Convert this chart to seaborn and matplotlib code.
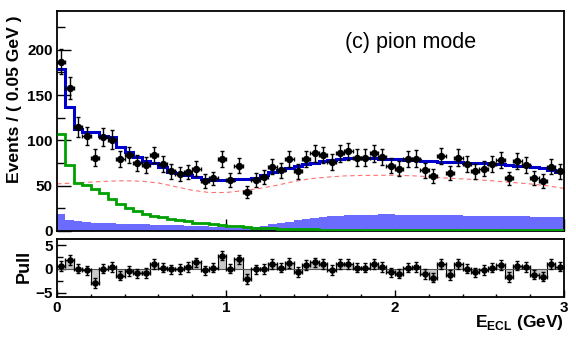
import numpy as np
import matplotlib
matplotlib.use('Agg')
import matplotlib.pyplot as plt
import seaborn as sns

# 60 bins of 0.05 GeV between 0 and 3 GeV
bin_edges = np.linspace(0, 3, 61)
bin_centers = (bin_edges[:-1] + bin_edges[1:]) / 2

data_counts = [187, 158, 115, 105, 81, 104, 101, 79, 84, 75,
               73, 84, 74, 66, 63, 65, 69, 55, 58, 79,
               56, 72, 43, 56, 60, 71, 67, 79, 66, 79,
               86, 84, 76, 86, 88, 81, 81, 86, 82, 72,
               69, 79, 80, 67, 61, 83, 64, 81, 74, 66,
               69, 74, 78, 58, 77, 73, 59, 55, 71, 66]

fit_total = [178.7, 137.4, 112.3, 109.5, 109, 104.5, 104, 92.5, 87.6, 82.1,
             77.7, 74.8, 70.4, 65.6, 63.7, 62, 60, 57, 56.4, 56.4,
             56.4, 57, 57.8, 58.5, 61.9, 64.8, 67.4, 69.2, 71.8, 73.7,
             75.5, 77, 78.5, 79.5, 80.3, 80.5, 80.5, 80.3, 80, 79.5,
             79, 78.5, 78, 77.5, 77, 76.6, 76.3, 76, 75.6, 75.2,
             74.8, 74.3, 73.7, 73, 72.3, 71.5, 70.5, 69.3, 67.5, 65.5]

signal = [107.5, 72.5, 53.5, 50.3, 46.2, 41.8, 35, 30, 25, 21.7,
          19.2, 17, 15, 13, 11.8, 10.5, 9.3, 8.3, 7.3, 6.5,
          5.7, 5, 4.4, 3.8, 3.3, 2.8, 2.4, 2.1, 1.9, 1.8,
          1.7, 1.6, 1.5, 1.5, 1.4, 1.4, 1.3, 1.3, 1.3, 1.2,
          1.2, 1.2, 1.2, 1.2, 1.1, 1.1, 1.1, 1.1, 1.1, 1.1,
          1.1, 1.1, 1.0, 1.0, 1.0, 1.0, 1.0, 1.0, 1.0, 1.0]

peaking_bkg = [18.8, 12.3, 10.6, 9.6, 9.2, 8.8, 8.5, 8.2, 7.9, 7.6,
               7.3, 7.0, 6.8, 6.6, 6.4, 6.0, 5.6, 5.1, 4.6, 4.1,
               3.7, 3.3, 3.2, 4.0, 5.5, 7.2, 8.8, 10.3, 11.8, 13.2,
               14.3, 15.3, 16.1, 16.8, 17.3, 17.7, 18.0, 18.2, 18.3, 18.3,
               18.2, 18.1, 18.0, 17.8, 17.7, 17.6, 17.4, 17.3, 17.1, 17.0,
               16.8, 16.6, 16.5, 16.3, 16.2, 16.1, 16.0, 15.9, 15.8, 15.7]

# smooth (dashed) component sampled every 0.1 GeV
curve_x = [0.0, 0.1, 0.2, 0.3, 0.4, 0.5, 0.6, 0.7, 0.8, 0.9,
           1.0, 1.1, 1.2, 1.3, 1.4, 1.5, 1.6, 1.7, 1.8, 1.9,
           2.0, 2.1, 2.2, 2.3, 2.4, 2.5, 2.6, 2.7, 2.8, 2.9, 3.0]
curve_y = [52, 53, 54, 55, 55.5, 55, 53, 49, 45, 42.5,
           42.5, 44.5, 47, 50.5, 54.5, 57.8, 59.5, 60.8, 61.3, 61.5,
           61.5, 61, 60, 58.5, 57.5, 56.5, 55, 53.5, 52, 50, 47]

pulls = [0.6, 1.9, 0.1, -0.3, -3.0, 0.1, 0.4, -1.4, -0.4, -0.9,
         -0.8, 1.0, 0.3, -0.1, 0.0, 0.4, 1.4, -0.3, 0.3, 2.8,
         0.1, 2.0, -2.1, -0.1, 0.0, 1.0, 0.3, 1.3, -0.6, 0.8,
         1.4, 1.0, -0.2, 1.0, 1.1, 0.3, 0.3, 1.0, 0.4, -0.7,
         -1.0, 0.3, 0.4, -1.1, -1.8, 1.0, -1.3, 1.0, 0.1, -0.7,
         -0.2, 0.3, 0.8, -1.7, 0.7, 0.4, -1.2, -1.6, 1.0, 0.5]

sns.set_theme(style='ticks')
plt.rcParams['font.family'] = ['Liberation Sans', 'DejaVu Sans']
plt.rcParams['mathtext.fontset'] = 'custom'
plt.rcParams['mathtext.rm'] = 'Liberation Sans'
plt.rcParams['mathtext.bf'] = 'Liberation Sans:bold'
for key in ['text.color', 'axes.labelcolor', 'xtick.color', 'ytick.color',
            'axes.edgecolor']:
    plt.rcParams[key] = 'black'

fig = plt.figure(figsize=(5.76, 3.41), dpi=100)
ax = fig.add_axes([0.099, 0.3226, 0.880, 0.6454])
ax_pull = fig.add_axes([0.099, 0.129, 0.880, 0.170])

counts = np.array(data_counts)

ax.stairs(peaking_bkg, bin_edges, fill=True, color='#6b6bff', lw=0, zorder=1)
ax.stairs(signal, bin_edges, color='#00a000', lw=2, baseline=None, zorder=3)
sns.lineplot(x=curve_x, y=curve_y, ax=ax, color='#ff7070', lw=0.8,
             linestyle=(0, (4, 3)), zorder=2)
ax.stairs(fit_total, bin_edges, color='#0000cc', lw=2.2, baseline=None,
          zorder=4)
ax.errorbar(bin_centers, counts, xerr=0.025, yerr=np.sqrt(counts),
            fmt='none', ecolor='black', elinewidth=1, capsize=1.5, zorder=5)
sns.scatterplot(x=bin_centers, y=counts, ax=ax, color='black', s=28,
                edgecolor='black', linewidth=0, zorder=6)

ax.set_xlim(0, 3)
ax.set_ylim(0, 243)
ax.set_xticks([0, 1, 2, 3])
ax.set_xticks(np.arange(0, 3.01, 0.2), minor=True)
ax.set_xticklabels([])
ax.set_yticks([0, 50, 100, 150, 200])
ax.set_yticks([25, 75, 125, 175, 225], minor=True)
ax.tick_params(axis='y', which='major', direction='in', length=10, width=1,
               labelsize=11, pad=3)
ax.tick_params(axis='y', which='minor', direction='in', length=5.5, width=1)
ax.tick_params(axis='x', which='major', direction='in', length=8.5, width=1)
ax.tick_params(axis='x', which='minor', direction='in', length=3.6, width=1)
for lbl in ax.get_yticklabels():
    lbl.set_fontweight('bold')
ax.text(0.568, 0.857, '(c) pion mode', transform=ax.transAxes,
        fontsize=15.5, ha='left', va='center')

# pull panel
ax_pull.bar(bin_centers, pulls, width=0.05, color='#c8c8c8', lw=0)
ax_pull.stairs(pulls, bin_edges, color='black', lw=0.8, baseline=0)
ax_pull.axhline(0, color='#555555', lw=0.8)
ax_pull.errorbar(bin_centers, pulls, xerr=0.025, yerr=1, fmt='none',
                 ecolor='black', elinewidth=1, capsize=1.5)
sns.scatterplot(x=bin_centers, y=pulls, ax=ax_pull, color='black', s=22,
                linewidth=0, zorder=5)
ax_pull.set_xlim(0, 3)
ax_pull.set_ylim(-5.9, 6.3)
ax_pull.set_xticks([0, 1, 2, 3])
ax_pull.set_xticks(np.arange(0, 3.01, 0.2), minor=True)
ax_pull.set_yticks([-5, 0, 5])
ax_pull.set_yticks([-2.5, 2.5], minor=True)
ax_pull.tick_params(axis='x', which='major', direction='in', length=5, width=1,
                    labelsize=11, pad=3)
ax_pull.tick_params(axis='x', which='minor', direction='in', length=2, width=1)
ax_pull.tick_params(axis='y', which='major', direction='in', length=6.5, width=1,
                    labelsize=11, pad=3)
ax_pull.tick_params(axis='y', which='minor', direction='in', length=4.5, width=1)
for lbl in ax_pull.get_xticklabels() + ax_pull.get_yticklabels():
    lbl.set_fontweight('bold')

for a in (ax, ax_pull):
    for sp in a.spines.values():
        sp.set_linewidth(1.3)
        sp.set_color('black')

fig.text(0.026, 0.956, 'Events / ( 0.05 GeV )', rotation=90, ha='center',
         va='top', fontsize=12.6, fontweight='bold')
fig.text(0.042, 0.22, 'Pull', rotation=90, ha='center', va='center',
         fontsize=13, fontweight='bold')
fig.text(0.979, 0.025, r'E$_{\mathbf{ECL}}$ (GeV)', ha='right', va='bottom',
         fontsize=12.5, fontweight='bold')

fig.savefig('out.png', dpi=100)
